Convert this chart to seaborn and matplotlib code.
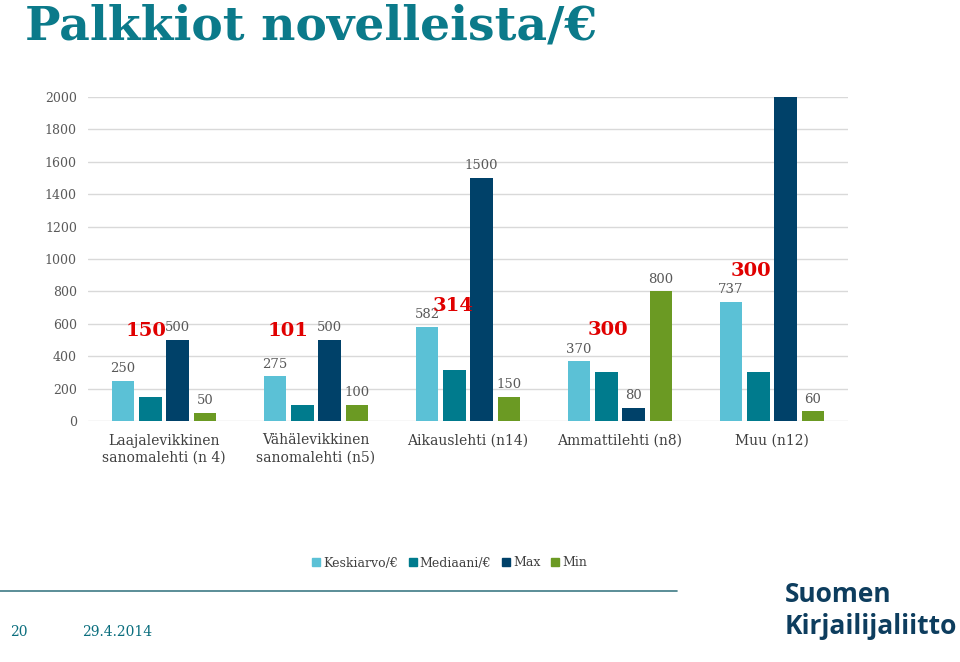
import matplotlib
matplotlib.use("Agg")
import matplotlib.pyplot as plt
import seaborn as sns
import pandas as pd
from matplotlib.lines import Line2D

categories = ["Laajalevikkinen\nsanomalehti (n 4)", "Vähälevikkinen\nsanomalehti (n5)",
              "Aikauslehti (n14)", "Ammattilehti (n8)", "Muu (n12)"]
series = ["Keskiarvo/€", "Mediaani/€", "Max", "Min"]
keskiarvo = [250, 275, 582, 370, 737]
mediaani = [150, 101, 314, 300, 300]
maksimi = [500, 500, 1500, 80, 2000]
minimi = [50, 100, 150, 800, 60]
max_labels = ["500", "500", "1500", "80", ""]
yticks = list(range(0, 2001, 200))

colors = ["#5BC1D6", "#007B8D", "#004169", "#6B9A23"]

# layout of red median labels (data-y position, x offset in points)
median_label_y = [556, 556, 710, 562, 926]
median_label_dx = [-3, -10, -1, 1.5, -5]

rows = []
for s, vals in zip(series, [keskiarvo, mediaani, maksimi, minimi]):
    for c, v in zip(categories, vals):
        rows.append({"Kategoria": c, "Sarja": s, "Arvo": v})
df = pd.DataFrame(rows)

sns.set_theme(style="white")
plt.rcParams["font.family"] = ["DejaVu Serif"]

fig = plt.figure(figsize=(9.6, 6.62), dpi=100)
ax = fig.add_axes([88/960, 1-421/662, 760/960, 324/662])
sns.barplot(data=df, x="Kategoria", y="Arvo", hue="Sarja", palette=colors,
            width=0.72, gap=0.18, ax=ax, legend=False, saturation=1, linewidth=0)

ax.set_ylim(0, 2000)
ax.set_xlim(-0.5, len(categories) - 0.5)
ax.set_yticks(yticks)
ax.set_yticklabels([str(t) for t in yticks], fontsize=9, color="#595959")
ax.yaxis.grid(True, color="#D9D9D9", linewidth=1)
ax.set_axisbelow(True)
for sp in ax.spines.values():
    sp.set_visible(False)
ax.tick_params(axis="both", length=0)
ax.tick_params(axis="y", pad=8)
ax.set_xlabel("")
ax.set_ylabel("")
ax.set_xticks(range(len(categories)))
ax.set_xticklabels(categories, fontsize=10, color="#404040", linespacing=1.3)
ax.tick_params(axis="x", pad=9)

lab_kw = dict(fontsize=9.5, color="#595959", padding=4)
conts = ax.containers
ax.bar_label(conts[0], labels=[str(v) for v in keskiarvo], **lab_kw)
ax.bar_label(conts[2], labels=max_labels, **lab_kw)
ax.bar_label(conts[3], labels=[str(v) for v in minimi], **lab_kw)

for i, p in enumerate(conts[1].patches):
    xc = p.get_x() + p.get_width() / 2
    ax.annotate(str(mediaani[i]), xy=(xc, median_label_y[i]),
                xytext=(median_label_dx[i], 0), textcoords="offset points",
                ha="center", va="center", fontsize=14, fontweight="bold",
                color="#E00000")

# title
fig.text(25/960, 1-39/662, "Palkkiot novelleista/€", fontsize=34, fontweight="bold",
         color="#0B7A8A", family=["DejaVu Serif"], va="baseline", ha="left")

# legend
handles = [Line2D([0], [0], marker="s", linestyle="", markersize=5.5,
                  markerfacecolor=c, markeredgecolor=c) for c in colors]
fig.legend(handles, series, loc="center", bbox_to_anchor=(449/960, 1-563/662),
           ncol=4, frameon=False, fontsize=9, handletextpad=0.15, handlelength=0.8,
           columnspacing=0.8, labelcolor="#404040")

# footer line and text
fig.add_artist(Line2D([0, 677/960], [1-591/662, 1-591/662], color="#3E7A85",
                      linewidth=1.2, transform=fig.transFigure))
fig.text(10/960, 1-632/662, "20", fontsize=10, color="#0B6E7E", va="center")
fig.text(82/960, 1-632/662, "29.4.2014", fontsize=10, color="#0B6E7E", va="center")

# logo text
fig.text(785/960, 1-595/662, "Suomen", fontsize=19, fontweight="bold",
         color="#0D3D5E", family=["Open Sans"], va="center", ha="left")
fig.text(785/960, 1-627/662, "Kirjailijaliitto", fontsize=19, fontweight="bold",
         color="#0D3D5E", family=["Open Sans"], va="center", ha="left")

fig.savefig("out.png", dpi=100)
